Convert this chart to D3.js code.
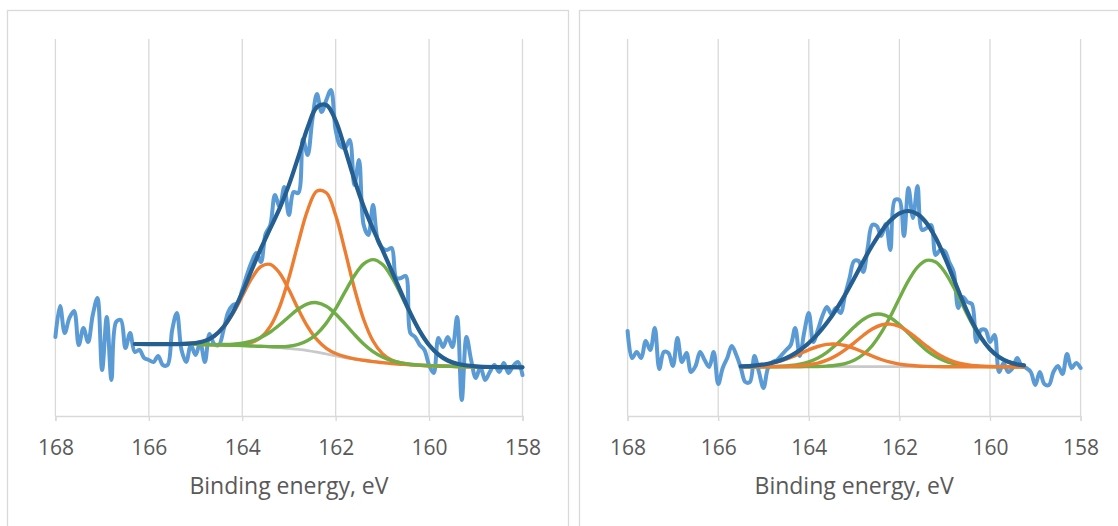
<!DOCTYPE html>
<html>
<head>
<meta charset="utf-8">
<script src="https://cdn.jsdelivr.net/npm/d3@7"></script>
<style>
  body { margin: 0; background: #ffffff; }
  svg { display: block; font-family: "Open Sans", "Liberation Sans", sans-serif; }
</style>
</head>
<body>
<script>
const WIDTH = 1118;
const HEIGHT = 526;

const xTicks = [168, 166, 164, 162, 160, 158];
const axisTitle = "Binding energy, eV";

// measured spectrum, 0.1 eV steps
const energyRaw = [
  168.0,167.9,167.8,167.7,167.6,167.5,167.4,167.3,167.2,167.1,
  167.0,166.9,166.8,166.7,166.6,166.5,166.4,166.3,166.2,166.1,
  166.0,165.9,165.8,165.7,165.6,165.5,165.4,165.3,165.2,165.1,
  165.0,164.9,164.8,164.7,164.6,164.5,164.4,164.3,164.2,164.1,
  164.0,163.9,163.8,163.7,163.6,163.5,163.4,163.3,163.2,163.1,
  163.0,162.9,162.8,162.7,162.6,162.5,162.4,162.3,162.2,162.1,
  162.0,161.9,161.8,161.7,161.6,161.5,161.4,161.3,161.2,161.1,
  161.0,160.9,160.8,160.7,160.6,160.5,160.4,160.3,160.2,160.1,
  160.0,159.9,159.8,159.7,159.6,159.5,159.4,159.3,159.2,159.1,
  159.0,158.9,158.8,158.7,158.6,158.5,158.4,158.3,158.2,158.1,
  158.0
];

const leftRaw = [
  79,110,83,98,105,71,88,74,101,118,
  46,99,36,94,96,68,83,64,66,58,
  56,54,60,51,51,86,103,66,54,71,
  61,73,54,82,72,71,86,104,111,113,
  126,141,154,163,154,182,191,221,209,229,
  201,224,223,277,261,296,322,304,316,326,
  286,270,268,276,231,256,191,181,211,176,
  168,166,168,138,138,140,83,79,71,66,
  51,43,78,69,79,69,99,16,79,56,
  38,49,36,44,51,44,53,43,50,54,
  41
];

const rightRaw = [
  85,58,64,58,75,66,88,47,64,63,
  50,78,54,63,44,50,64,56,49,64,
  32,48,58,70,61,48,34,34,60,44,
  28,48,54,56,61,66,71,88,60,84,
  103,74,86,100,109,102,108,103,121,138,
  155,155,144,168,191,190,180,192,166,216,
  216,180,228,198,230,186,188,191,161,166,
  165,154,144,108,119,114,112,74,86,86,
  74,81,44,53,44,48,58,50,48,44,
  31,44,32,31,44,50,42,62,48,53,
  48
];

// left fit
const leftFitEnergy = [166.3, 165.8, 165.4, 165.0, 164.8, 164.6, 164.4, 164.2, 164.0, 163.8,
  163.6, 163.4, 163.2, 163.0, 162.8, 162.6, 162.4, 162.2, 162.0, 161.8,
  161.6, 161.4, 161.2, 161.0, 160.8, 160.6, 160.4, 160.2, 160.0, 159.8,
  159.6, 159.4, 159.0, 158.5, 158.0];
const leftBackground = [72.0, 71.9, 71.8, 71.6, 71.4, 71.2, 71.0, 70.7, 70.4, 70.0,
  69.6, 69.0, 68.3, 67.5, 66.6, 65.4, 63.8, 62.0, 60.2, 58.5,
  57.0, 55.6, 54.4, 53.4, 52.5, 51.8, 51.2, 50.7, 50.3, 50.0,
  49.7, 49.5, 49.2, 48.9, 48.7];
const leftOrange1 = [72.0, 71.9, 71.9, 73.0, 75.0, 79.8, 88.7, 102.3, 119.8, 137.3,
  149.5, 151.6, 142.9, 126.2, 106.8, 89.4, 76.3, 67.7, 62.5, 59.3,
  57.2, 55.7, 54.4, 53.4, 52.5, 51.8, 51.2, 50.7, 50.3, 50.0,
  49.7, 49.5, 49.2, 48.9, 48.7];
const leftOrange2 = [72.0, 71.9, 71.8, 71.6, 71.4, 71.2, 71.1, 71.0, 71.6, 73.5,
  78.6, 89.6, 109.2, 138.3, 173.4, 205.9, 225.0, 223.2, 200.7, 165.3,
  127.8, 96.5, 75.0, 62.4, 56.0, 53.0, 51.5, 50.8, 50.3, 50.0,
  49.7, 49.5, 49.2, 48.9, 48.7];
const leftGreen1 = [72.0, 71.9, 71.8, 71.6, 71.5, 71.4, 71.5, 71.8, 72.8, 74.9,
  78.6, 84.0, 91.2, 99.3, 107.0, 112.2, 113.3, 109.7, 102.1, 92.1,
  81.6, 72.0, 64.4, 59.0, 55.3, 53.1, 51.8, 50.9, 50.4, 50.0,
  49.7, 49.5, 49.2, 48.9, 48.7];
const leftGreen2 = [72.0, 71.9, 71.8, 71.6, 71.4, 71.2, 71.0, 70.7, 70.4, 70.0,
  69.7, 69.4, 69.2, 69.8, 71.6, 75.5, 82.3, 92.9, 107.3, 124.1,
  140.3, 152.1, 156.4, 151.7, 138.9, 121.1, 101.9, 84.6, 70.9, 61.5,
  55.5, 52.2, 49.6, 48.9, 48.7];
const leftEnvelope = [72.0, 71.9, 71.9, 73.0, 75.1, 80.0, 89.2, 103.7, 123.4, 145.7,
  167.6, 187.6, 207.6, 231.1, 259.0, 288.5, 309.0, 311.0, 295.5, 267.0,
  236.5, 209.5, 187.0, 166.3, 145.2, 123.6, 102.8, 84.9, 71.0, 61.5,
  55.5, 52.2, 49.6, 48.9, 48.7];

// right fit
const rightFitEnergy = [165.5, 165.2, 164.9, 164.6, 164.4, 164.2, 164.0, 163.8, 163.6, 163.4,
  163.2, 163.0, 162.8, 162.6, 162.4, 162.2, 162.0, 161.8, 161.6, 161.4,
  161.2, 161.0, 160.8, 160.6, 160.4, 160.2, 160.0, 159.8, 159.6, 159.4,
  159.25];
const rightBackground = [49.3, 49.3, 49.3, 49.3, 49.3, 49.3, 49.3, 49.3, 49.3, 49.3,
  49.3, 49.3, 49.3, 49.3, 49.3, 49.3, 49.3, 49.3, 49.3, 49.3,
  49.3, 49.3, 49.3, 49.3, 49.3, 49.3, 49.3, 49.3, 49.3, 49.3,
  49.3];
const rightOrange1 = [49.6, 50.3, 52.1, 55.3, 58.5, 62.3, 66.2, 69.5, 71.6, 71.9,
  70.5, 67.6, 63.9, 60.0, 56.5, 53.8, 51.9, 50.7, 50.0, 49.6,
  49.4, 49.3, 49.3, 49.3, 49.3, 49.3, 49.3, 49.3, 49.3, 49.3,
  49.3];
const rightOrange2 = [49.3, 49.3, 49.3, 49.5, 49.7, 50.2, 51.2, 52.9, 55.9, 60.3,
  66.2, 73.2, 80.5, 86.9, 91.0, 91.9, 89.5, 84.2, 77.2, 69.9,
  63.3, 58.1, 54.4, 52.0, 50.6, 49.9, 49.6, 49.4, 49.3, 49.3,
  49.3];
const rightGreen1 = [49.3, 49.3, 49.4, 49.8, 50.5, 51.8, 54.2, 58.0, 63.7, 71.2,
  79.9, 88.9, 96.5, 101.1, 101.7, 98.2, 91.4, 82.7, 73.7, 65.7,
  59.5, 55.1, 52.4, 50.8, 50.0, 49.6, 49.4, 49.3, 49.3, 49.3,
  49.3];
const rightGreen2 = [49.3, 49.3, 49.3, 49.3, 49.3, 49.3, 49.4, 49.5, 49.9, 50.7,
  52.4, 55.7, 61.5, 70.4, 83.3, 99.5, 117.8, 135.3, 148.9, 155.6,
  153.9, 144.1, 128.6, 110.4, 92.7, 77.7, 66.4, 58.8, 54.2, 51.6,
  50.6];
const rightEnvelope = [49.6, 50.4, 52.2, 56.0, 60.1, 65.7, 73.0, 82.1, 93.2, 106.2,
  121.1, 137.5, 154.5, 170.5, 184.6, 195.5, 202.7, 205.0, 201.9, 192.9,
  178.2, 158.8, 136.8, 114.6, 94.7, 78.6, 66.8, 59.0, 54.2, 51.6,
  50.6];

const COLORS = {
  raw: "#5B9BD5",
  background: "#C9C9C9",
  orange: "#ED7D31",
  green: "#70AD47",
  envelope: "#255E91",
  grid: "#D9D9D9",
  text: "#595959"
};

const svg = d3.select("body").append("svg")
  .attr("width", WIDTH)
  .attr("height", HEIGHT);

function zip(xs, ys) {
  return xs.map((x, i) => [x, ys[i]]);
}

function drawPanel(p) {
  // frame of the chart object
  svg.append("rect")
    .attr("x", p.frame[0]).attr("y", p.frame[1])
    .attr("width", p.frame[2]).attr("height", p.frame[3])
    .attr("fill", "#fff")
    .attr("stroke", COLORS.grid)
    .attr("stroke-width", 1.3);

  const x = d3.scaleLinear().domain([168, 158]).range([p.left, p.right]);
  const y = d3.scaleLinear().domain([0, 377]).range([416, 39]);

  const g = svg.append("g");

  g.selectAll("line.grid")
    .data(xTicks)
    .join("line")
    .attr("class", "grid")
    .attr("x1", d => x(d)).attr("x2", d => x(d))
    .attr("y1", y(377)).attr("y2", y(0))
    .attr("stroke", COLORS.grid)
    .attr("stroke-width", 1.3);

  const axis = g.append("g")
    .attr("transform", `translate(0,${y(0)})`)
    .call(d3.axisBottom(x).tickValues(xTicks).tickSize(5).tickPadding(19).tickFormat(d3.format("d")));
  axis.select(".domain").attr("stroke", COLORS.grid).attr("stroke-width", 1.3);
  axis.selectAll(".tick line").attr("stroke", COLORS.grid).attr("stroke-width", 1.3);
  axis.selectAll(".tick text")
    .attr("fill", COLORS.text)
    .style("font-size", "21px")
    .style("font-family", "'Open Sans', sans-serif");

  g.append("text")
    .attr("x", (p.left + p.right) / 2)
    .attr("y", 493.5)
    .attr("text-anchor", "middle")
    .attr("fill", COLORS.text)
    .style("font-size", "23px")
    .text(axisTitle);

  const line = d3.line()
    .x(d => x(d[0]))
    .y(d => y(d[1]))
    .curve(d3.curveCatmullRom.alpha(0.5));

  p.series.forEach(s => {
    g.append("path")
      .datum(s.points)
      .attr("d", line)
      .attr("fill", "none")
      .attr("stroke", s.color)
      .attr("stroke-width", s.width)
      .attr("stroke-linejoin", "round")
      .attr("stroke-linecap", "round");
  });
}

drawPanel({
  frame: [7.5, 10.5, 561, 540],
  left: 55.4,
  right: 522.5,
  series: [
    { points: zip(energyRaw, leftRaw), color: COLORS.raw, width: 4 },
    { points: zip(leftFitEnergy, leftBackground), color: COLORS.background, width: 2.8 },
    { points: zip(leftFitEnergy, leftOrange1), color: COLORS.orange, width: 3.4 },
    { points: zip(leftFitEnergy, leftOrange2), color: COLORS.orange, width: 3.4 },
    { points: zip(leftFitEnergy, leftGreen1), color: COLORS.green, width: 3.4 },
    { points: zip(leftFitEnergy, leftGreen2), color: COLORS.green, width: 3.4 },
    { points: zip(leftFitEnergy, leftEnvelope), color: COLORS.envelope, width: 4.2 }
  ]
});

drawPanel({
  frame: [579.5, 10.5, 600, 540],
  left: 627.6,
  right: 1080.6,
  series: [
    { points: zip(energyRaw, rightRaw), color: COLORS.raw, width: 4 },
    { points: zip(rightFitEnergy, rightBackground), color: COLORS.background, width: 2.8 },
    { points: zip(rightFitEnergy, rightGreen1), color: COLORS.green, width: 3.4 },
    { points: zip(rightFitEnergy, rightGreen2), color: COLORS.green, width: 3.4 },
    { points: zip(rightFitEnergy, rightOrange1), color: COLORS.orange, width: 3.4 },
    { points: zip(rightFitEnergy, rightOrange2), color: COLORS.orange, width: 3.4 },
    { points: zip(rightFitEnergy, rightEnvelope), color: COLORS.envelope, width: 4.2 }
  ]
});
</script>
</body>
</html>
